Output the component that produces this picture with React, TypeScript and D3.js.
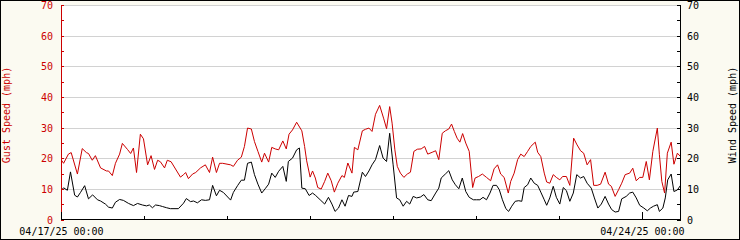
import React from "react";
import * as d3 from "d3";

// Hours since 04/17/25 00:00 and values (mph)
const gustHours = [0,0.6,2.0,2.8,4.6,6.0,7.2,7.8,8.9,9.8,
  11.3,13.0,13.6,14.7,15.6,16.8,17.6,19.1,20.0,20.8,
  21.7,22.8,23.7,24.9,25.9,26.9,27.8,28.6,29.8,30.6,
  31.7,34.4,35.3,35.9,36.7,37.9,38.8,40.2,41.6,42.8,
  43.7,44.8,45.7,46.6,48.9,49.7,50.9,52.0,52.9,53.8,
  54.9,55.8,56.8,57.9,58.7,59.9,60.8,61.8,62.8,64.0,
  65.0,65.8,66.8,68.0,69.5,70.3,70.9,71.9,72.6,73.4,
  74.1,75.1,76.1,77.0,78.0,78.9,79.9,81.1,81.8,82.8,
  84.0,84.7,85.7,87.0,87.9,88.9,89.8,90.8,92.0,93.2,
  94.0,94.9,95.6,96.4,97.1,98.0,99.0,100.0,100.9,101.9,
  102.9,104.0,105.0,105.9,107.2,108.2,109.1,110.1,111.0,112.0,
  112.8,113.6,114.4,115.2,116.0,116.9,117.9,118.9,119.6,120.6,
  121.7,122.9,124.1,125.1,126.1,127.0,128.0,129.2,129.9,130.9,
  131.9,132.8,133.8,134.8,135.7,137.0,137.7,138.6,139.6,140.3,
  141.2,142.2,143.1,144.1,144.9,146.0,147.0,148.1,149.1,150.1,
  151.0,152.0,153.0,153.9,154.9,155.9,157.2,158.2,159.0,160.1,
  161.1,162.0,163.0,164.3,165.2,166.2,167.2,168.1,169.1,170.0,
  171.0,172.3,172.9,173.6,174.4,175.2,176.3,177.1,178.1,179.0];

const gustMph = [19.5,18.5,21.5,22,15,23.3,22,21.7,19.5,21,
  17,16,16,14.5,18.5,21.5,25,23,21.7,23.5,
  15.5,28,26.5,18,21,16.5,19.5,19,17,19.5,
  19,14,14.8,15.5,13.5,15,15.5,17,18,15.5,
  20.5,15.5,18.5,18.5,18,17.5,19.5,20.5,24,30,
  29.7,25.6,22.4,18.9,21.8,18.9,23.7,23.2,22.9,25.8,
  23.2,28,29.4,31.9,29.1,24,19.3,14,16,13.7,
  10.6,10.1,12.6,15.3,12.8,9.1,12,14.5,13.9,18.6,
  15.3,23.7,22.9,29.1,29.6,30,28.9,34.5,37.4,33,
  29.8,37,31.6,22.9,17.5,15.3,13.9,15,15.6,22.4,
  23.1,23.2,24,21.5,22.1,22.6,19.7,28.3,29.1,29.7,
  31.3,28.9,26.7,25.4,28.2,25.1,22.4,10.6,13.7,14.2,
  15,13.9,12.8,16.7,18,15,13.9,8.8,12.6,15.3,
  19.7,21.5,20.7,22.4,24,25.4,22.1,20.7,15.3,12.4,
  12,14.8,13.9,13.1,14.2,14.2,11.3,26.7,24.5,22.6,
  21.8,18,19.7,11.3,11.3,11.7,15.6,11.7,11,7.7,
  9.9,12,14.8,15.3,16.9,12.8,13.9,13.9,19.1,13.1,
  22.4,30,21.3,12.6,8.8,21.8,25.4,18.2,21.8,20.7];

const windHours = [0,0.6,1.7,2.6,3.8,4.6,5.5,6.7,7.8,9.0,
  10.4,11.3,12.7,13.6,14.7,15.6,16.8,17.9,19.4,20.8,
  22.0,23.4,24.6,25.4,26.3,27.2,28.3,29.2,30.4,31.5,
  33.8,35.3,36.1,37.3,38.2,39.3,40.5,41.6,42.8,43.7,
  44.8,45.7,46.8,48.9,49.7,50.9,52.0,52.9,53.8,54.9,
  55.8,56.8,57.9,58.9,59.9,60.8,61.8,62.8,64.0,65.0,
  65.6,66.8,68.0,68.8,69.5,70.5,71.6,72.6,73.5,74.8,
  76.1,77.2,78.2,79.1,80.1,81.1,82.0,83.0,84.0,84.5,
  85.7,87.0,87.9,88.9,89.8,90.8,92.0,93.0,94.0,94.9,
  95.9,96.9,97.8,98.8,99.8,100.7,101.7,102.7,103.8,104.8,
  105.9,106.9,108.2,109.1,109.8,111.0,112.0,113.0,113.9,114.9,
  115.9,116.9,117.9,119.1,120.0,121.0,121.9,122.9,123.9,124.8,
  125.8,126.6,127.5,128.5,129.3,130.2,131.2,132.2,133.1,133.8,
  134.8,135.7,136.7,137.7,138.6,139.6,140.3,141.2,142.2,143.1,
  144.1,145.1,146.0,147.0,148.0,149.0,150.1,151.0,152.0,153.2,
  154.1,155.1,156.1,157.2,158.2,159.1,160.1,161.1,162.0,163.3,
  164.3,165.2,166.2,167.2,168.4,169.4,170.3,171.2,172.3,172.9,
  173.9,174.6,175.3,176.3,177.1,178.1,179.0];

const windMph = [9.8,10.5,9.7,15.7,8.1,7.5,9,11.2,6.9,8.2,
  6.6,6.2,5.2,4.2,3.9,5.8,6.7,6.4,5.4,4.7,
  5.4,4.9,4.6,4.9,4,4.9,4.7,4.4,4,3.7,
  3.7,5.5,7,6,6.2,5.6,6.6,6.4,6.6,11.3,
  7.9,9.7,9,6.5,9,11.2,13,13,18.5,18.9,
  14.8,11.7,8.8,10.2,11.7,15.3,13.9,15.9,17.5,12.6,
  19.1,20.2,22.9,23.5,10.4,10.2,8,8.8,8,6.6,
  5.2,7.4,5.2,2.8,3.9,6.6,4.5,8,7.7,9.1,
  9.3,15.6,14.2,16,18,19.7,24.3,20.2,19.1,28.3,
  18,7.2,6.6,4.5,6.1,5.2,7.7,7.2,7.5,8.3,
  6.6,6.3,8.8,10.4,13.7,15,16.1,13.1,11.5,10.2,
  13.7,9.3,7.4,6.6,6.6,6.6,7.4,6.6,8.8,11.3,
  11.3,9.9,6.6,3.7,2.8,4.5,6.1,6.3,6.1,10.6,
  11.5,13.7,12,11.3,9.1,6.6,4.8,7.2,11,7.4,
  5.2,10.6,9.6,6.1,8.8,14.8,13.7,14.2,12,10.4,
  7.2,3.9,5.2,7.7,5.2,3.4,2.6,2.8,6.9,7.7,
  8.8,9.1,7.2,4.8,3.9,3,3.9,4.5,5,2.8,
  3.9,7.2,13.1,15,9.3,9.8,11.3];

const yTicksMajor = [0, 10, 20, 30, 40, 50, 60, 70];
const yTicksMinor = [5, 15, 25, 35, 45, 55, 65];
const gustTitle = "Gust Speed (mph)";
const windTitle = "Wind Speed (mph)";
const startDate = new Date(2025, 3, 17, 0, 0);
const endHours = 179;
const labeledDays = [new Date(2025, 3, 17), new Date(2025, 3, 24)];

const RED = "#cc0000";
const FONT = "'DejaVu Sans Mono', monospace";

const toDate = (h: number) => new Date(startDate.getTime() + h * 3600e3);

export default function App() {
  const W = 740, H = 240;
  const x = d3.scaleTime().domain([startDate, toDate(endHours)]).range([61.5, 680.5]);
  const y = d3.scaleLinear().domain([0, 70]).range([220, 5.5]);
  const line = d3.line<[number, number]>()
    .x(d => x(toDate(d[0])))
    .y(d => y(d[1]));
  const gust: [number, number][] = gustHours.map((h, i) => [h, gustMph[i]]);
  const wind: [number, number][] = windHours.map((h, i) => [h, windMph[i]]);
  const days = d3.timeDay.range(startDate, toDate(endHours));
  const fmt = d3.timeFormat("%m/%d/%y %H:%M");
  const isLabeled = (d: Date) => labeledDays.some(l => l.getTime() === d.getTime());
  const gy = (v: number) => Math.floor(y(v)) + 0.5;

  return (
    <div style={{ position: "absolute", left: 0, top: 0 }}>
      <svg width={W} height={H} style={{ display: "block" }} fontFamily={FONT} fontSize={10}>
        <rect x={0.5} y={0.5} width={W - 1} height={H - 1} fill="#fbfaf1" stroke="#000" />
        <rect x={61} y={5} width={619} height={215} fill="#fff" />
        {yTicksMajor.filter(v => v > 0).map(v => (
          <line key={"g" + v} x1={61} x2={680} y1={gy(v)} y2={gy(v)} stroke="#d2d2d2" shapeRendering="crispEdges" />
        ))}
        <path d={line(gust) || ""} fill="none" stroke={RED} strokeWidth={1} />
        <path d={line(wind) || ""} fill="none" stroke="#000" strokeWidth={1} />
        {/* left axis */}
        <line x1={61.5} x2={61.5} y1={5} y2={220} stroke={RED} shapeRendering="crispEdges" />
        {[...yTicksMajor, ...yTicksMinor].map(v => (
          <line key={"lt" + v} x1={61} x2={64} y1={gy(v)} y2={gy(v)} stroke={RED} shapeRendering="crispEdges" />
        ))}
        {yTicksMajor.map(v => (
          <text key={"ll" + v} x={53} y={y(v) + 3.5} textAnchor="end" fill={RED}>{v}</text>
        ))}
        {/* right axis */}
        <line x1={680.5} x2={680.5} y1={5} y2={220} stroke="#000" shapeRendering="crispEdges" />
        {[...yTicksMajor, ...yTicksMinor].map(v => (
          <line key={"rt" + v} x1={677} x2={681} y1={gy(v)} y2={gy(v)} stroke="#000" shapeRendering="crispEdges" />
        ))}
        {yTicksMajor.map(v => (
          <text key={"rl" + v} x={687} y={y(v) + 3.5} textAnchor="start" fill="#000">{v}</text>
        ))}
        {/* bottom axis */}
        <line x1={61} x2={681} y1={219.5} y2={219.5} stroke="#000" shapeRendering="crispEdges" />
        {days.map(d => {
          const xx = Math.floor(x(d)) + 0.5;
          const len = isLabeled(d) ? 7 : 3;
          return <line key={"xt" + d.getTime()} x1={xx} x2={xx} y1={219} y2={219 - len} stroke="#000" shapeRendering="crispEdges" />;
        })}
        {days.filter(isLabeled).map(d => (
          <text key={"xl" + d.getTime()} x={x(d)} y={234.5} textAnchor="middle" fill="#000">{fmt(d)}</text>
        ))}
        <text transform="translate(10,115) rotate(-90)" textAnchor="middle" fill={RED}>{gustTitle}</text>
        <text transform="translate(736,115) rotate(-90)" textAnchor="middle" fill="#000">{windTitle}</text>
      </svg>
    </div>
  );
}
